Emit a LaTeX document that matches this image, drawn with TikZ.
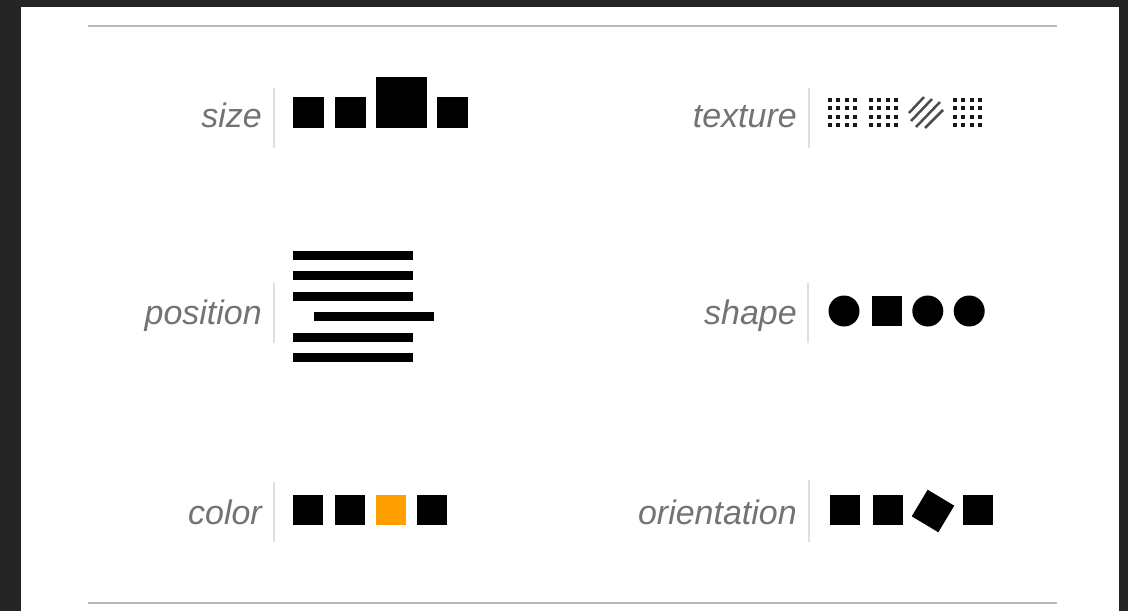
\documentclass[tikz,border=0pt]{standalone}
\usepackage{fontspec}
\newfontfamily\labelfont{Liberation Sans}
\usetikzlibrary{positioning}
\definecolor{panelbg}{RGB}{37,37,37}
\definecolor{accent}{RGB}{255,160,0}

\begin{document}
\begin{tikzpicture}[
    x=1pt, y=-1pt,
    lbl/.style={font=\labelfont\itshape\fontsize{34}{34}\selectfont, text=black!55, anchor=base east, inner sep=0pt},
    divider/.style={draw=gray!25, line width=1.2pt},
    hrule/.style={draw=gray!55, line width=2pt},
    blk/.style={rectangle, fill=black, minimum size=31pt, inner sep=0pt},
    tdot/.style={rectangle, fill=black!90, minimum size=4pt, inner sep=0pt},
    hatch/.style={draw=black!70, line width=2.5pt},
    bar/.style={rectangle, fill=black, minimum width=120pt, minimum height=9pt, inner sep=0pt},
    disc/.style={circle, fill=black, minimum size=31pt, inner sep=0pt}
  ]

  % ============ FRAME ============
  \useasboundingbox (0,0) rectangle (1128,611);
  \fill[panelbg] (0,0) rectangle (1128,611);
  \fill[white] (21,7) rectangle (1119,611);
  \draw[hrule] (88,25.5) -- (1057,25.5);
  \draw[hrule] (88,603) -- (1057,603);

  % ============ SIZE ============
  \node[lbl] (size) at (262,127) {size};
  \draw[divider] (274,88) -- (274,148);
  \node[blk, anchor=south west] (size1) at (293,128) {};
  \node[blk, right=10pt of size1] (size2) {};
  \node[blk, minimum size=51pt, anchor=south west] (size3) at ([xshift=10pt]size2.south east) {};
  \node[blk, anchor=south west] (size4) at ([xshift=10pt]size3.south east) {};

  % ============ TEXTURE ============
  \node[lbl] (texture) at (797,127) {texture};
  \draw[divider] (809,88) -- (809,148);
  \foreach \g/\gx in {a/842.5, b/883.5, d/967.5}
    \foreach \i in {0,...,3}
      \foreach \j in {0,...,3}
        \node[tdot] (dot-\g-\i\j) at (\gx-12.75+8.5*\i, 99.75+8.5*\j) {};
  % hatched patch
  \draw[hatch] (909,113) -- (924,97);
  \draw[hatch] (911,121) -- (932,99);
  \draw[hatch] (916,127) -- (940,102);
  \draw[hatch] (925,128) -- (943,110);

  % ============ POSITION ============
  \node[lbl] (position) at (262,324) {position};
  \draw[divider] (274,283) -- (274,343);
  \node[bar, anchor=west] (pos1) at (293,255) {};
  \node[bar, anchor=west] (pos2) at (293,275.5) {};
  \node[bar, anchor=west] (pos3) at (293,296) {};
  \node[bar, anchor=west] (pos4) at (314,316.5) {};
  \node[bar, anchor=west] (pos5) at (293,337) {};
  \node[bar, anchor=west] (pos6) at (293,357.5) {};

  % ============ SHAPE ============
  \node[lbl] (shape) at (797,324) {shape};
  \draw[divider] (808,283) -- (808,343);
  \node[disc] (shape1) at (844,311) {};
  \node[blk, minimum size=30pt, right=12pt of shape1] (shape2) {};
  \node[disc, right=10pt of shape2] (shape3) {};
  \node[disc, right=10pt of shape3] (shape4) {};

  % ============ COLOR ============
  \node[lbl] (color) at (262,524) {color};
  \draw[divider] (274,482) -- (274,542);
  \node[blk, minimum size=30pt, anchor=west] (col1) at (293,510) {};
  \node[blk, minimum size=30pt, right=11pt of col1] (col2) {};
  \node[blk, minimum size=30pt, fill=accent, right=11pt of col2] (col3) {};
  \node[blk, minimum size=30pt, right=11pt of col3] (col4) {};

  % ============ ORIENTATION ============
  \node[lbl] (orientation) at (797,524) {orientation};
  \draw[divider] (809,480) -- (809,542);
  \node[blk, minimum size=30pt, anchor=west] (ori1) at (830,510) {};
  \node[blk, minimum size=30pt, right=12pt of ori1] (ori2) {};
  \node[blk, minimum size=31pt, rotate=-31] (ori3) at (933,511) {};
  \node[blk, minimum size=30pt, anchor=west] (ori4) at (963,510) {};

\end{tikzpicture}
\end{document}
